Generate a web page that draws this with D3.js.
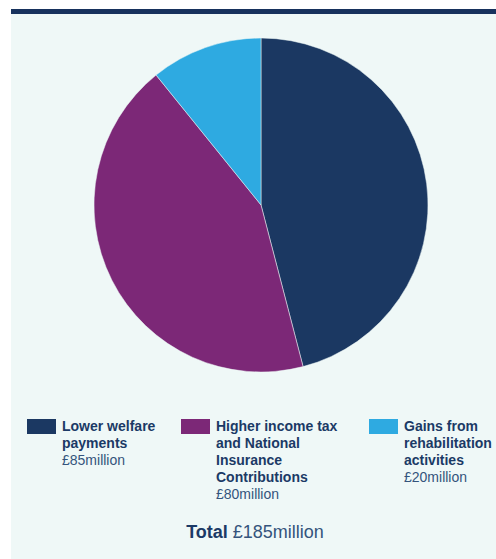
<!DOCTYPE html>
<html lang="en">
<head>
<meta charset="UTF-8">
<script src="https://d3js.org/d3.v7.min.js"></script>
<style>
  body { margin: 0; background: #fff; }
  svg { font-family: "Liberation Sans", Arial, sans-serif; display: block; }
</style>
</head>
<body>
<div id="chart"></div>
<script>
// Data
const categories = ["Lower welfare payments", "Higher income tax and National Insurance Contributions", "Gains from rehabilitation activities"];
const categoryLines = [
  ["Lower welfare", "payments"],
  ["Higher income tax", "and National", "Insurance", "Contributions"],
  ["Gains from", "rehabilitation", "activities"]
];
const values = [85, 80, 20];
const valueLabels = ["£85million", "£80million", "£20million"];
const totalLabel = "£185million";
const colors = ["#1b3862", "#7c2877", "#2eaae1"];

const W = 496, H = 559;
const svg = d3.select("#chart").append("svg")
  .attr("width", W).attr("height", H);

// panel + top rule
svg.append("rect").attr("x", 11).attr("y", 12).attr("width", W - 11).attr("height", H - 12)
  .attr("fill", "#eff8f7");
svg.append("rect").attr("x", 11).attr("y", 9).attr("width", W - 11).attr("height", 5)
  .attr("fill", "#17325d");

// pie
const cx = 261, cy = 205, r = 167;
const color = d3.scaleOrdinal().domain(categories).range(colors);
const pie = d3.pie().sort(null).value(d => d.value);
const arc = d3.arc().innerRadius(0).outerRadius(r);
const pieData = pie(categories.map((c, i) => ({ name: c, value: values[i] })));

svg.append("g").attr("transform", `translate(${cx},${cy})`)
  .selectAll("path").data(pieData).enter().append("path")
  .attr("d", arc)
  .attr("fill", d => color(d.data.name))
  .attr("stroke", "#eff8f7").attr("stroke-width", 0.5);

// legend
const legendX = [27, 181, 369];
const legendY = 419, lineH = 17;
const item = svg.selectAll(".legend").data(categories).enter().append("g")
  .attr("class", "legend")
  .attr("transform", (d, i) => `translate(${legendX[i]},${legendY})`);

item.append("rect").attr("width", 29).attr("height", 15)
  .attr("fill", d => color(d));

item.each(function(d, i) {
  const g = d3.select(this);
  const lines = categoryLines[i];
  lines.forEach((ln, j) => {
    g.append("text").attr("x", 35).attr("y", 12 + j * lineH)
      .attr("fill", "#1b3a66").style("font-size", "14px").style("font-weight", "bold")
      .text(ln);
  });
  g.append("text").attr("x", 35).attr("y", 12 + lines.length * lineH)
    .attr("fill", "#34547c").style("font-size", "14px")
    .text(valueLabels[i]);
});

// total
const total = svg.append("text").attr("x", 255).attr("y", 538)
  .attr("text-anchor", "middle").style("font-size", "18px").attr("fill", "#1b3a66");
total.append("tspan").style("font-weight", "bold").text("Total ");
total.append("tspan").attr("fill", "#34547c").text(totalLabel);
</script>
</body>
</html>
